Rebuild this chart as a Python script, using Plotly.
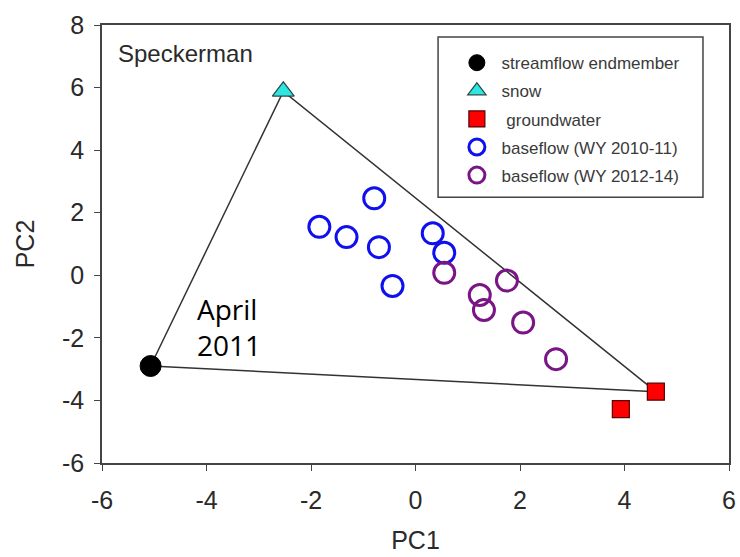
import plotly.graph_objects as go

# Endmembers
stream_x = [-5.07]
stream_y = [-2.9]
snow_x = [-2.53]
snow_y = [5.88]
gw_x = [4.6, 3.93]
gw_y = [-3.72, -4.28]

# Baseflow samples
bf1_x = [-0.79, -1.84, -1.32, -0.70, 0.33, 0.55, -0.44]
bf1_y = [2.46, 1.55, 1.22, 0.90, 1.34, 0.72, -0.34]
bf2_x = [0.55, 1.75, 1.23, 1.31, 2.06, 2.69]
bf2_y = [0.08, -0.17, -0.63, -1.11, -1.51, -2.68]

# Mixing triangle vertices: streamflow -> snow -> groundwater -> streamflow
tri_x = [stream_x[0], snow_x[0], gw_x[0], stream_x[0]]
tri_y = [stream_y[0], snow_y[0], gw_y[0], stream_y[0]]

x_ticks = [-6, -4, -2, 0, 2, 4, 6]
y_ticks = [-6, -4, -2, 0, 2, 4, 6, 8]

FONT = "Liberation Sans, Arial"
TXT = "#2a2a2a"

fig = go.Figure()
fig.add_trace(go.Scatter(x=tri_x, y=tri_y, mode="lines",
                         line=dict(color="#333333", width=1.5),
                         showlegend=False, hoverinfo="skip"))
fig.add_trace(go.Scatter(x=stream_x, y=stream_y, mode="markers", name=" streamflow endmember",
                         legendgroup="a",
                         marker=dict(symbol="circle", size=21, color="black",
                                     line=dict(color="black", width=1))))
fig.add_trace(go.Scatter(x=snow_x, y=snow_y, mode="markers", name=" snow",
                         legendgroup="b",
                         marker=dict(symbol="triangle-up", size=19, color="#2ee6e0",
                                     line=dict(color="#2a4a4a", width=1.2))))
fig.add_trace(go.Scatter(x=gw_x, y=gw_y, mode="markers", name="  groundwater",
                         legendgroup="c",
                         marker=dict(symbol="square", size=17, color="#ff0000",
                                     line=dict(color="#5a0000", width=1.2))))
fig.add_trace(go.Scatter(x=bf1_x, y=bf1_y, mode="markers", name=" baseflow (WY 2010-11)",
                         legendgroup="d",
                         marker=dict(symbol="circle-open", size=21, color="#1010ee",
                                     line=dict(color="#1010ee", width=3))))
fig.add_trace(go.Scatter(x=bf2_x, y=bf2_y, mode="markers", name=" baseflow (WY 2012-14)",
                         legendgroup="e",
                         marker=dict(symbol="circle-open", size=21, color="#7a1585",
                                     line=dict(color="#7a1585", width=3))))

axis_common = dict(showgrid=False, zeroline=False, showline=True, linecolor="#444444",
                   linewidth=1.5, mirror=True, ticks="outside", ticklen=6,
                   tickcolor="#444444", tickwidth=1.2, automargin=False,
                   tickfont=dict(family=FONT, size=25, color=TXT))

fig.update_xaxes(range=[-6, 6], tickvals=x_ticks, ticktext=[str(v) for v in x_ticks],
                 ticklabelstandoff=8,
                 title=dict(text="PC1", font=dict(family=FONT, size=25, color=TXT), standoff=19),
                 **axis_common)
fig.update_yaxes(range=[-6, 8], tickvals=y_ticks, ticktext=[str(v) for v in y_ticks],
                 ticklabelstandoff=5,
                 title=dict(text="PC2", font=dict(family=FONT, size=25, color=TXT), standoff=20),
                 **axis_common)

fig.add_annotation(x=0.022, y=0.97, xref="paper", yref="paper", text="Speckerman",
                   showarrow=False, xanchor="left", yanchor="top",
                   font=dict(family=FONT, size=24, color=TXT))
fig.add_annotation(x=-4.22, y=-1.65, text="April<br>2011", showarrow=False,
                   xanchor="left", yanchor="middle", align="left",
                   font=dict(family="Open Sans", size=28, color="black"))

# legend frame
fig.add_shape(type="rect", xref="paper", yref="paper",
              x0=0.536, x1=0.9585, y0=0.607, y1=0.9726,
              line=dict(color="#444444", width=1.5), fillcolor="white", layer="below")

fig.update_layout(
    width=740, height=557,
    margin=dict(l=102, r=11, t=25, b=94),
    plot_bgcolor="white", paper_bgcolor="white",
    legend=dict(x=0.566, y=0.954, xanchor="left", yanchor="top",
                bgcolor="rgba(0,0,0,0)", borderwidth=0,
                font=dict(family=FONT, size=17, color="#3a3a3a"),
                tracegroupgap=3, itemwidth=30),
)

fig.write_html("out.html")
